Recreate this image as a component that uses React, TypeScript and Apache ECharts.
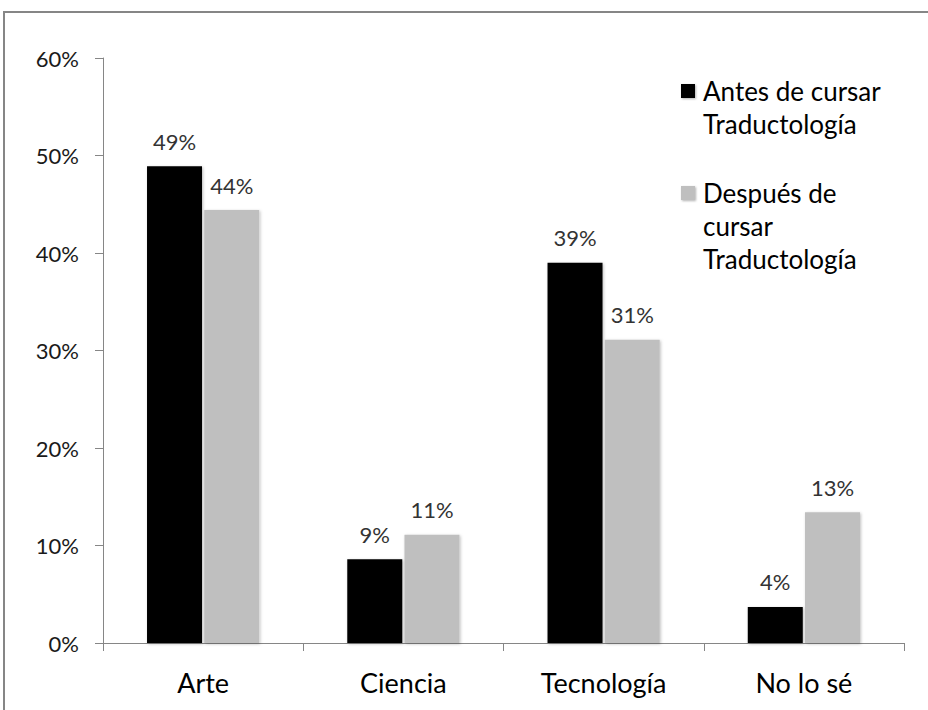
import React, { useEffect, useRef } from "react";
import * as echarts from "echarts";

const categories = ["Arte", "Ciencia", "Tecnología", "No lo sé"];
const seriesNames = ["Antes de cursar Traductología", "Después de cursar Traductología"];
const legendLines = [["Antes de cursar", "Traductología"], ["Después de", "cursar", "Traductología"]];
const antes = [48.9, 8.6, 39.0, 3.7];
const despues = [44.4, 11.1, 31.1, 13.4];
const colors = ["#000000", "#BFBFBF"];
const yTicks = { min: 0, max: 60, interval: 10 };

const FONT = "Lato, 'Open Sans', sans-serif";

export default function App() {
  const ref = useRef<HTMLDivElement>(null);
  useEffect(() => {
    document.body.style.margin = "0";
    const chart = echarts.init(ref.current!, null, { renderer: "svg" });
    const legendGraphics: any[] = [];
    let y = 91;
    legendLines.forEach((lines, i) => {
      legendGraphics.push({
        type: "rect",
        shape: { x: 681, y: y - 7, width: 14, height: 14 },
        style: {
          fill: colors[i],
          stroke: "#ffffff",
          lineWidth: 0,
          shadowBlur: 2,
          shadowColor: "rgba(0,0,0,0.3)",
          shadowOffsetX: 1,
          shadowOffsetY: 1,
        },
      });
      lines.forEach((ln, j) => {
        legendGraphics.push({
          type: "text",
          x: 703,
          y: y + j * 33,
          style: {
            text: ln,
            font: `26px ${FONT}`,
            fill: "#000000",
            verticalAlign: "middle",
          },
        });
      });
      y += (lines.length - 1) * 33 + 69;
    });

    const mkSeries = (name: string, data: number[], color: string) => ({
      name,
      type: "bar",
      data,
      barWidth: 55,
      barGap: "4%",
      itemStyle: {
        color,
        shadowBlur: 3,
        shadowColor: "rgba(0,0,0,0.25)",
        shadowOffsetX: 1,
        shadowOffsetY: 1,
      },
      label: {
        show: true,
        position: "top",
        distance: 14,
        formatter: (p: any) => `${Math.round(p.value)}%`,
        fontFamily: FONT,
        fontSize: 22,
        color: "#333333",
      },
    });

    chart.setOption({
      animation: false,
      backgroundColor: "#ffffff",
      grid: { left: 103, right: 24, top: 58, bottom: 67 },
      legend: { show: false },
      xAxis: {
        type: "category",
        data: categories,
        axisLine: { lineStyle: { color: "#868686", width: 1 } },
        axisTick: { show: true, length: 8, lineStyle: { color: "#868686" } },
        axisLabel: { fontFamily: FONT, fontSize: 27, color: "#000000", margin: 26 },
      },
      yAxis: {
        type: "value",
        min: yTicks.min,
        max: yTicks.max,
        interval: yTicks.interval,
        axisLine: { show: true, lineStyle: { color: "#868686", width: 1 } },
        axisTick: { show: true, length: 8, lineStyle: { color: "#868686" } },
        splitLine: { show: false },
        axisLabel: {
          fontFamily: FONT,
          fontSize: 22,
          color: "#1a1a1a",
          margin: 24,
          formatter: (v: number) => `${v}%`,
        },
      },
      graphic: [
        {
          type: "rect",
          shape: { x: 4, y: 12, width: 1000, height: 1000 },
          style: { fill: "none", stroke: "#868686", lineWidth: 2 },
          silent: true,
        },
        ...legendGraphics,
      ],
      series: [
        mkSeries(seriesNames[0], antes, colors[0]),
        mkSeries(seriesNames[1], despues, colors[1]),
      ],
    });
    return () => chart.dispose();
  }, []);
  return <div ref={ref} style={{ width: 928, height: 710 }} />;
}
